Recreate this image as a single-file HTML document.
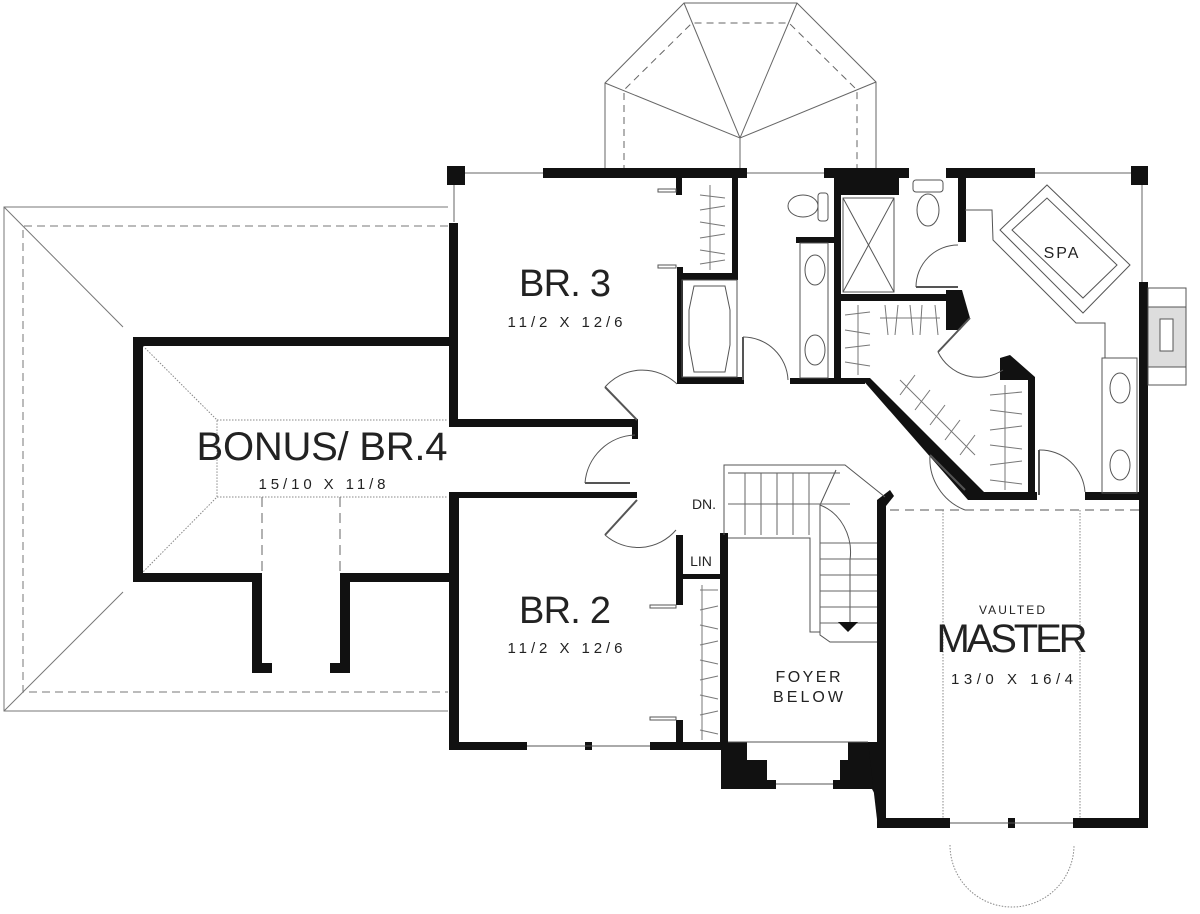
<!DOCTYPE html>
<html><head><meta charset="utf-8"><style>
html,body{margin:0;padding:0;background:#fff}
svg{display:block}
text{font-family:"Liberation Sans",sans-serif;fill:#222}
</style></head><body>
<svg width="1200" height="914" viewBox="0 0 1200 914" xmlns="http://www.w3.org/2000/svg">
<rect width="1200" height="914" fill="#fff"/>
<g fill="none" stroke="#777" stroke-width="1">
<polyline points="448,207 4,207 4,711 448,711"/>
<polyline points="448,226 23,226 23,692 448,692" stroke-dasharray="8,5"/>
<line x1="4" y1="207" x2="123" y2="327"/><line x1="4" y1="711" x2="123" y2="592"/>
</g>
<g fill="none" stroke="#888" stroke-width="1" stroke-dasharray="1.5,1.5">
<polyline points="143,346 217,420 217,497 143,572"/>
<line x1="217" y1="420" x2="448" y2="420"/><line x1="217" y1="497" x2="448" y2="497"/>
</g>
<g stroke="#666" stroke-width="1" stroke-dasharray="10,6">
<line x1="262" y1="497" x2="262" y2="572"/><line x1="340" y1="497" x2="340" y2="572"/>
</g>
<g fill="none" stroke="#666" stroke-width="1">
<polyline points="605,172 605,83 684,3 797,3 876,82 876,172"/>
<polyline points="624,172 624,90 692,23 789,23 857,90 857,172" stroke-dasharray="7,5"/>
<polyline points="605,83 740,138 876,82"/><polyline points="684,3 740,138 797,3"/>
<line x1="740" y1="138" x2="740" y2="172"/>
<line x1="747" y1="173" x2="824" y2="173"/>
<line x1="465" y1="173" x2="543" y2="173"/>
<line x1="454" y1="185" x2="454" y2="222"/>
<line x1="1035" y1="173" x2="1133" y2="173"/>
<line x1="1142" y1="185" x2="1142" y2="282"/>
</g>
<g fill="#111">
<rect x="133" y="337" width="319" height="9"/>
<rect x="133" y="337" width="10" height="245"/>
<rect x="133" y="573" width="129" height="9"/>
<rect x="340" y="573" width="112" height="9"/>
<rect x="252" y="573" width="10" height="100"/>
<rect x="340" y="573" width="10" height="100"/>
<rect x="252" y="663" width="20" height="10"/><rect x="330" y="663" width="20" height="10"/>
<rect x="447" y="166" width="18" height="19"/>
<rect x="543" y="168" width="204" height="10"/>
<rect x="449" y="223" width="9" height="204"/>
<rect x="449" y="419" width="188" height="8"/>
<rect x="632" y="419" width="6" height="20"/>
<rect x="676" y="178" width="6" height="17"/>
<rect x="732" y="178" width="6" height="102"/>
<rect x="677" y="273" width="60" height="7"/>
<rect x="677" y="267" width="6" height="117"/>
<rect x="677" y="377" width="67" height="7"/>
<rect x="796" y="237" width="39" height="6"/>
<rect x="834" y="178" width="7" height="206"/>
<rect x="790" y="378" width="75" height="6"/>
<rect x="824" y="168" width="85" height="10"/>
<polygon points="834,178 899,178 899,195 838,195"/>
<rect x="841" y="294" width="117" height="7"/>
<polygon points="946,290 962,290 970,318 960,330 946,330"/>
<rect x="946" y="168" width="89" height="10"/>
<rect x="958" y="178" width="8" height="64"/>
<rect x="1131" y="166" width="17" height="19"/>
<rect x="1139" y="282" width="9" height="546"/>
<polygon points="861,378 870,378 985,493 980,500 968,500"/>
<rect x="980" y="492" width="57" height="8"/>
<rect x="1085" y="492" width="58" height="8"/>
<polygon points="1000,358 1010,355 1035,377 1035,495 1028,495 1028,380 1000,380"/>
<rect x="449" y="492" width="188" height="6"/>
<rect x="449" y="492" width="10" height="258"/>
<rect x="449" y="742" width="78" height="8"/>
<rect x="585" y="742" width="7" height="8"/>
<rect x="650" y="742" width="74" height="8"/>
<rect x="676" y="535" width="7" height="70"/>
<rect x="676" y="720" width="7" height="25"/>
<rect x="683" y="574" width="38" height="5"/>
<rect x="720" y="533" width="8" height="212"/>
<polygon points="721,742 747,742 747,760 767,760 767,780 776,780 776,789 721,789"/>
<polygon points="875,742 848,742 848,760 840,760 840,780 833,780 833,789 872,789 878,800 877,742"/>
<polygon points="868,742 877,742 887,828 878,828"/>
<rect x="877" y="500" width="9" height="328"/>
<polygon points="877,500 890,490 894,496 886,506"/>
<rect x="877" y="818" width="73" height="10"/>
<rect x="1008" y="818" width="7" height="10"/>
<rect x="1073" y="818" width="75" height="10"/>
</g>
<g fill="none" stroke="#555" stroke-width="1">
<line x1="527" y1="746" x2="650" y2="746"/>
<line x1="950" y1="823" x2="1073" y2="823"/>
<line x1="776" y1="784" x2="833" y2="784"/>
<line x1="728" y1="742" x2="868" y2="742"/>
<rect x="682" y="280" width="55" height="97"/>
<polygon points="694,286 725,286 730,310 730,345 725,372 694,372 689,345 689,310"/>
<rect x="800" y="243" width="28" height="135"/>
<ellipse cx="815" cy="270" rx="10" ry="15"/><ellipse cx="815" cy="350" rx="10" ry="15"/>
<rect x="843" y="198" width="51" height="94"/>
<line x1="843" y1="198" x2="894" y2="292"/><line x1="894" y1="198" x2="843" y2="292"/>
<ellipse cx="803" cy="206" rx="15" ry="11"/><rect x="818" y="193" width="10" height="28" rx="3"/>
<rect x="913" y="180" width="30" height="12" rx="3"/><ellipse cx="928" cy="210" rx="11" ry="16"/>
<polygon points="1000,230 1047,185 1130,265 1083,313"/>
<polygon points="1012,230 1047,198 1117,265 1083,298"/>
<polyline points="965,210 992,210 993,240 1076,323 1105,323 1105,358"/>
<rect x="1102" y="358" width="35" height="135"/>
<ellipse cx="1120" cy="388" rx="10" ry="15"/><ellipse cx="1120" cy="465" rx="10" ry="15"/>
<rect x="1148" y="288" width="38" height="97"/>
<rect x="1148" y="307" width="38" height="60" fill="#ddd"/>
<rect x="1160" y="319" width="13" height="32" fill="#fff"/>
<path d="M605,387 A50,50 0 0 1 677,384"/><line x1="605" y1="387" x2="637" y2="420" stroke-width="2"/>
<path d="M585,483 A52,52 0 0 1 635,435"/><line x1="585" y1="483" x2="630" y2="483" stroke-width="2"/>
<path d="M605,535 A50,50 0 0 0 676,530"/><line x1="605" y1="535" x2="637" y2="500" stroke-width="2"/>
<path d="M743,337 A45,45 0 0 1 788,380"/><line x1="743" y1="337" x2="743" y2="380" stroke-width="2"/>
<path d="M916,287 A42,42 0 0 1 958,245"/><line x1="916" y1="287" x2="958" y2="287" stroke-width="2"/>
<path d="M938,352 A45,45 0 0 0 1003,370"/><line x1="938" y1="352" x2="970" y2="318" stroke-width="2"/>
<path d="M1039,450 A45,45 0 0 1 1085,492"/><line x1="1039" y1="450" x2="1039" y2="495" stroke-width="2"/>
<path d="M930,455 A55,55 0 0 0 965,510"/><line x1="930" y1="455" x2="965" y2="490" stroke-width="2"/>
<rect x="658" y="189" width="18" height="3"/><rect x="658" y="265" width="18" height="3"/>
<rect x="650" y="605" width="26" height="3"/><rect x="650" y="717" width="26" height="3"/>
<polyline points="724,535 724,465 845,465 885,497"/>
<polyline points="728,538 810,538 810,632 820,632"/>
<line x1="728" y1="473" x2="840" y2="473"/>
<path d="M820,505 A45,50 0 0 1 850,560 L850,625"/>
<polyline points="836,470 820,505 820,635 830,642 877,642"/>
</g>
<g stroke="#666" stroke-width="1">
<line x1="745" y1="473" x2="745" y2="535"/><line x1="761" y1="473" x2="761" y2="535"/>
<line x1="777" y1="473" x2="777" y2="535"/><line x1="793" y1="473" x2="793" y2="535"/>
<line x1="809" y1="473" x2="809" y2="535"/>
<line x1="820" y1="543" x2="877" y2="543"/><line x1="820" y1="559" x2="877" y2="559"/>
<line x1="820" y1="575" x2="877" y2="575"/><line x1="820" y1="591" x2="877" y2="591"/>
<line x1="820" y1="607" x2="877" y2="607"/><line x1="820" y1="623" x2="877" y2="623"/>
<line x1="728" y1="504" x2="850" y2="504"/>
</g>
<polygon points="838,622 858,622 848,632" fill="#111"/>
<g stroke="#777" stroke-width="1">
<line x1="710" y1="185" x2="710" y2="270"/>
<line x1="700" y1="195" x2="725" y2="198"/><line x1="700" y1="210" x2="725" y2="206"/>
<line x1="700" y1="222" x2="725" y2="226"/><line x1="700" y1="238" x2="725" y2="234"/>
<line x1="700" y1="250" x2="725" y2="254"/><line x1="700" y1="264" x2="725" y2="260"/>
<line x1="700" y1="590" x2="718" y2="590"/><line x1="700" y1="610" x2="718" y2="606"/>
<line x1="700" y1="625" x2="718" y2="629"/><line x1="700" y1="645" x2="718" y2="641"/>
<line x1="700" y1="660" x2="718" y2="664"/><line x1="700" y1="680" x2="718" y2="676"/>
<line x1="700" y1="695" x2="718" y2="699"/><line x1="700" y1="715" x2="718" y2="711"/>
<line x1="700" y1="730" x2="718" y2="734"/>
<line x1="702" y1="585" x2="702" y2="740"/>
<line x1="858" y1="305" x2="858" y2="375"/><line x1="845" y1="315" x2="870" y2="312"/>
<line x1="845" y1="330" x2="870" y2="334"/><line x1="845" y1="348" x2="870" y2="345"/>
<line x1="845" y1="362" x2="870" y2="366"/>
<line x1="880" y1="318" x2="940" y2="318"/><line x1="885" y1="305" x2="888" y2="335"/>
<line x1="898" y1="305" x2="895" y2="335"/><line x1="910" y1="305" x2="913" y2="335"/>
<line x1="922" y1="305" x2="920" y2="335"/><line x1="935" y1="305" x2="938" y2="335"/>
<line x1="900" y1="380" x2="975" y2="455"/>
<line x1="900" y1="395" x2="915" y2="375"/><line x1="915" y1="410" x2="930" y2="390"/>
<line x1="930" y1="425" x2="945" y2="405"/><line x1="945" y1="440" x2="960" y2="420"/>
<line x1="960" y1="455" x2="975" y2="435"/>
<line x1="1005" y1="385" x2="1005" y2="490"/><line x1="990" y1="395" x2="1022" y2="392"/>
<line x1="990" y1="410" x2="1022" y2="414"/><line x1="990" y1="430" x2="1022" y2="426"/>
<line x1="990" y1="445" x2="1022" y2="449"/><line x1="990" y1="465" x2="1022" y2="461"/>
<line x1="990" y1="480" x2="1022" y2="484"/>
</g>
<line x1="890" y1="510" x2="1139" y2="510" stroke="#555" stroke-dasharray="9,6"/>
<g stroke="#888" stroke-dasharray="1.5,1.5" fill="none">
<line x1="943" y1="510" x2="943" y2="818"/><line x1="1080" y1="510" x2="1080" y2="818"/>
<path d="M950,845 A62,62 0 0 0 1074,845"/>
</g>
<text x="565" y="296" font-size="38" text-anchor="middle" textLength="92" fill="#111">BR. 3</text>
<text x="565" y="327" font-size="15" text-anchor="middle" textLength="115">11/2 X 12/6</text>
<text x="322" y="460" font-size="40" text-anchor="middle" textLength="251" fill="#111">BONUS/ BR.4</text>
<text x="322" y="489" font-size="15" text-anchor="middle" textLength="127">15/10 X 11/8</text>
<text x="565" y="623" font-size="38" text-anchor="middle" textLength="92" fill="#111">BR. 2</text>
<text x="565" y="653" font-size="15" text-anchor="middle" textLength="115">11/2 X 12/6</text>
<text x="1012" y="614" font-size="12" text-anchor="middle" textLength="66">VAULTED</text>
<text x="1012" y="652" font-size="40" text-anchor="middle" textLength="151" fill="#111">MASTER</text>
<text x="1012" y="684" font-size="15" text-anchor="middle" textLength="122">13/0 X 16/4</text>
<text x="808" y="682" font-size="16" text-anchor="middle" textLength="65">FOYER</text>
<text x="808" y="702" font-size="16" text-anchor="middle" textLength="70">BELOW</text>
<text x="701" y="566" font-size="14" text-anchor="middle">LIN</text>
<text x="704" y="509" font-size="14" text-anchor="middle">DN.</text>
<text x="1062" y="258" font-size="16" text-anchor="middle" letter-spacing="2">SPA</text>
</svg>
</body></html>
